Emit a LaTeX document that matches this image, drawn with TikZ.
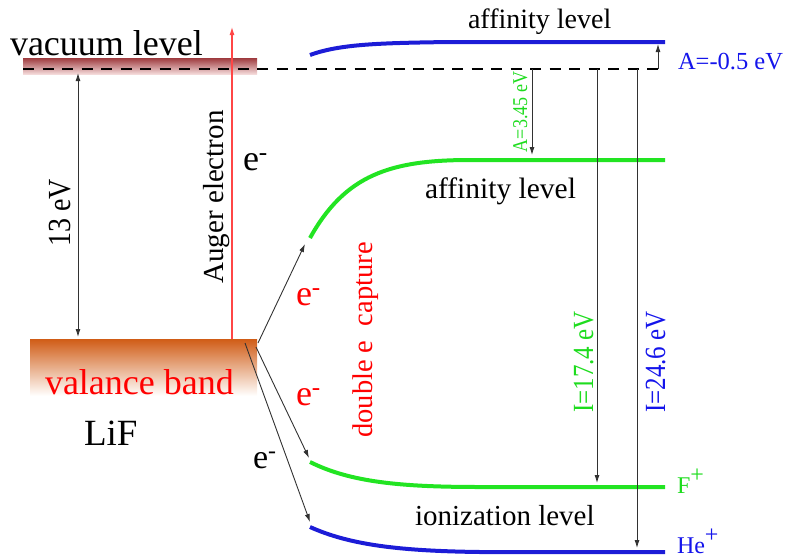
\documentclass[tikz,border=0pt]{standalone}
\usepackage{fontspec}
\setmainfont{Liberation Serif}
\usetikzlibrary{arrows.meta}
\definecolor{vactop}{RGB}{158,58,62}
\definecolor{vacbot}{RGB}{244,218,218}
\definecolor{vbtop}{RGB}{208,92,22}
\definecolor{vbbot}{RGB}{255,253,251}
\definecolor{lvgreen}{RGB}{34,228,34}
\definecolor{txgreen}{RGB}{30,220,30}
\definecolor{lvblue}{RGB}{28,28,215}
\definecolor{txblue}{RGB}{20,20,235}
\definecolor{augred}{RGB}{255,70,70}
\definecolor{arrgray}{RGB}{50,50,50}
\newcommand{\fsz}[1]{\fontsize{#1}{#1}\selectfont}
\begin{document}
\begin{tikzpicture}[x=1pt,y=-1pt,
  lbl/.style={inner sep=0pt, outer sep=0pt},
  arr/.style={-{Latex[length=8pt,width=5pt]}, line width=0.9pt, draw=arrgray, color=arrgray},
  lvl/.style={line width=4pt},
  bar/.style={inner sep=0pt, outer sep=0pt, anchor=north west}]
\useasboundingbox (0,0) rectangle (790,555);
% bars
\node[bar, shade, top color=vactop, bottom color=vacbot, minimum width=234pt, minimum height=16pt] (vac) at (23,58) {};
\node[bar, shade, top color=vbtop, bottom color=vbbot, minimum width=227pt, minimum height=56pt] (vb) at (30,339) {};
% level curves
\draw[lvl, lvblue] (310,55) .. controls (340,44) and (380,43) .. (450,42) -- (665,42);
\draw[lvl, lvgreen] (310,238) .. controls (345,175) and (390,160) .. (470,160) -- (665,160);
\draw[lvl, lvgreen] (310,462) .. controls (350,482) and (400,487) .. (480,487) -- (665,487);
\draw[lvl, lvblue] (310,527) .. controls (350,545) and (400,551) .. (480,552) -- (665,552);
% coordinates
\coordinate (c1) at (258,343);
\coordinate (c2) at (256,347);
\coordinate (c3) at (245,343);
\coordinate (gup) at (305,244);
\coordinate (glo) at (309,458);
\coordinate (blo) at (310,522);
\coordinate (augS) at (232,339);
\coordinate (augE) at (232,27);
\coordinate (dl) at (23,69);
\coordinate (dr) at (662,69);
\coordinate (aT) at (532,69);  \coordinate (aB) at (532,155);
\coordinate (fT) at (597,69);  \coordinate (fB) at (597,483);
\coordinate (hT) at (637,69);  \coordinate (hB) at (637,548);
\coordinate (nT) at (658,69);  \coordinate (nB) at (658,44);
\coordinate (eT) at (78,73);   \coordinate (eB) at (78,337);
% auger
\draw[-{Latex[length=8pt,width=5pt]}, augred, line width=1.1pt] (augS) -- (augE);
% dashed vacuum line
\draw[line width=2.2pt, dash pattern=on 11pt off 8.5pt] (dl) -- (dr);
% arrows
\draw[arr] (c1) -- (gup);
\draw[arr] (c2) -- (glo);
\draw[arr] (c3) -- (blo);
\draw[arr] (aT) -- (aB);
\draw[arr] (fT) -- (fB);
\draw[arr] (hT) -- (hB);
\draw[arr] (nT) -- (nB);
\draw[arr, {Latex[length=8pt,width=5pt]}-{Latex[length=8pt,width=5pt]}] (eT) -- (eB);
% texts
\node[lbl, anchor=base west] (tvac) at (10,55) {\fsz{36}vacuum level};
\node[lbl, anchor=base west] (taff1) at (468,28) {\fsz{28}affinity level};
\node[lbl, anchor=base west] (taff2) at (425,198) {\fsz{29.5}affinity level};
\node[lbl, anchor=base west] (tion) at (415,525) {\fsz{29}ionization level};
\node[lbl, anchor=base west, text=red] (tvb) at (45,394) {\fsz{36}valance band};
\node[lbl, anchor=base west] (tlif) at (84,445) {\fsz{37}LiF};
\node[lbl, anchor=base, rotate=90] (taug) at (223,197) {\fsz{29}Auger electron};
\node[lbl, anchor=base, rotate=90] (t13) at (70,213) {\fsz{28}\scalebox{1}[1.15]{13 eV}};
\node[lbl, anchor=base, rotate=90, text=red] (tdec) at (372,340) {\fsz{28.5}double e\ \ capture};
\node[lbl, anchor=base, rotate=90, text=txgreen] (ta345) at (527,112) {\fsz{18}\scalebox{1}[1.17]{A=3.45 eV}};
\node[lbl, anchor=base, rotate=90, text=txgreen] (ti174) at (593,362) {\fsz{25}\scalebox{1}[1.17]{I=17.4 eV}};
\node[lbl, anchor=base, rotate=90, text=txblue] (ti246) at (665,362) {\fsz{25}\scalebox{1}[1.17]{I=24.6 eV}};
\node[lbl, anchor=base west, text=txblue] (ta05) at (678,69) {\fsz{24.5}A=-0.5 eV};
\node[lbl, anchor=base west, text=txgreen] (tf) at (677,493) {\fsz{24}F\raisebox{0.45em}{+}};
\node[lbl, anchor=base west, text=txblue] (the) at (677,553) {\fsz{24}He\raisebox{0.45em}{+}};
\node[lbl, anchor=base west] (te1) at (243,170) {\fsz{36}e\textsuperscript{-}};
\node[lbl, anchor=base west, text=red] (te2) at (296,305) {\fsz{36}e\textsuperscript{-}};
\node[lbl, anchor=base west, text=red] (te3) at (296,405) {\fsz{36}e\textsuperscript{-}};
\node[lbl, anchor=base west] (te4) at (253,468) {\fsz{34}e\textsuperscript{-}};
\end{tikzpicture}
\end{document}
